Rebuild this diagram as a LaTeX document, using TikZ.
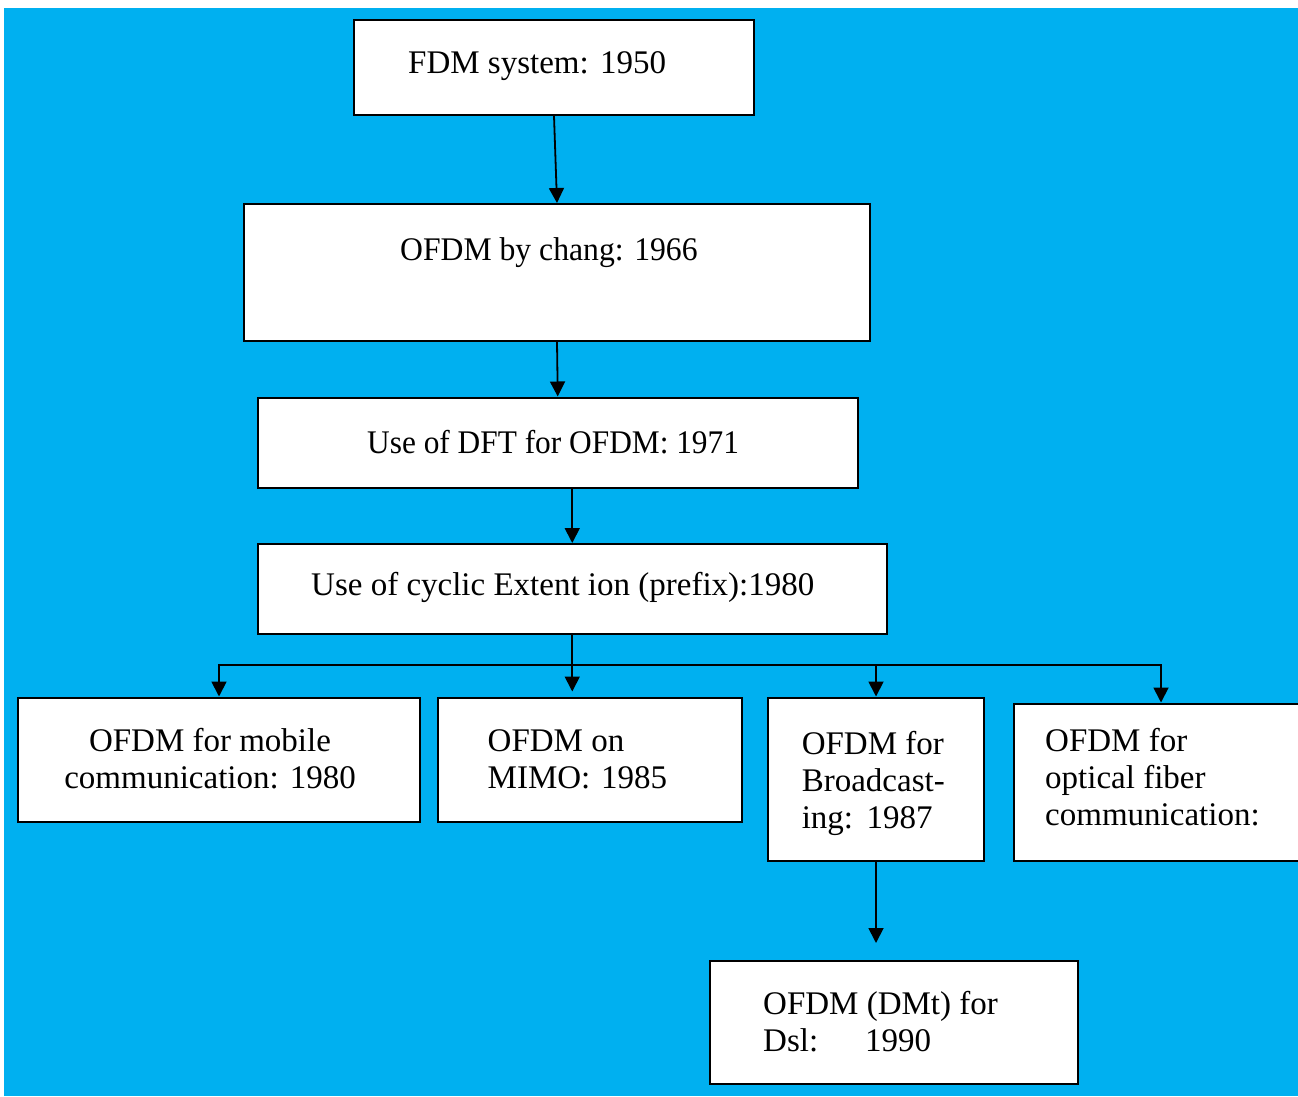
\documentclass[tikz,border=0pt]{standalone}
\usepackage{fontspec}
\setmainfont{Liberation Serif}
\usetikzlibrary{arrows.meta}
\definecolor{skyblue}{HTML}{00B0F0}
\begin{document}
\begin{tikzpicture}[x=1pt,y=-1pt,
  box/.style={draw=black, line width=2pt, fill=white, inner sep=0pt, rectangle},
  lbl/.style={inner sep=0pt, anchor=base west, align=left, font=\fontsize{33}{37}\selectfont},
  link/.style={line width=1.8pt, -{Triangle[width=15pt,length=15pt]}}]
\useasboundingbox (0,0) rectangle (1298,1097);
\clip (0,0) rectangle (1298,1097);
\fill[skyblue] (4,8) rectangle (1298,1096);

% boxes
\node[box, minimum width=400pt, minimum height=95pt]   (fdm)   at (554,67.5) {};
\node[box, minimum width=626pt, minimum height=137pt]  (chang) at (557,272.5) {};
\node[box, minimum width=600.5pt, minimum height=90.5pt] (dft) at (557.75,442.75) {};
\node[box, minimum width=629.5pt, minimum height=90pt] (cyc)   at (572.25,589) {};
\node[box, minimum width=402pt, minimum height=124.5pt] (mob)  at (219,759.75) {};
\node[box, minimum width=304pt, minimum height=124.5pt] (mimo) at (590,759.75) {};
\node[box, minimum width=216pt, minimum height=163.5pt] (brd)  at (876,779.25) {};
\node[box, minimum width=295pt, minimum height=157.5pt] (opt)  at (1161,782.25) {};
\node[box, minimum width=368.5pt, minimum height=123pt] (dsl)  at (893.75,1022.5) {};

% texts (multi-line labels are placed by the baseline of their last line)
\node[lbl] (tfdm) at (408,73.3) {\makebox[192pt][l]{FDM system:}1950};
\node[lbl] (tchang) at (400,260) {\scalebox{0.96}[1]{OFDM by chang: 1966}};
\node[lbl] (tdft) at (367,453.3) {\scalebox{0.95}[1]{Use of DFT for OFDM: 1971}};
\node[lbl] (tcyc) at (311,595.7) {Use of cyclic Extent ion (prefix):1980};
\node[lbl, anchor=base, align=center] (tmob) at (210,788) {OFDM for mobile\\communication: 1980};
\node[lbl] (tmimo) at (487.5,788) {OFDM on\\\makebox[113.5pt][l]{MIMO:}1985};
\node[lbl] (tbrd) at (801.6,828.3) {OFDM for\\Broadcast-\\\makebox[64.8pt][l]{ing:}1987};
\node[lbl] (topt) at (1045,825) {OFDM for\\optical fiber\\communication:};
\node[lbl] (tdsl) at (763,1051.7) {OFDM (DMt) for\\\makebox[102pt][l]{Dsl:}1990};

% connectors
\coordinate (bus) at (572.5,665);
\draw[link] (fdm.south) -- (chang.north);
\draw[link] (chang.south) -- (dft.north);
\draw[link] (dft.south -| cyc.north) -- (cyc.north);
\draw[link, shorten >=5pt] (cyc.south) -- (cyc.south |- mimo.north);
\draw[link] (bus) -| (mob.north);
\draw[link] (bus) -| (brd.north);
\draw[link] (bus) -| (opt.north);
\draw[link, shorten >=17pt] (brd.south) -- (brd.south |- dsl.north);
\end{tikzpicture}
\end{document}
